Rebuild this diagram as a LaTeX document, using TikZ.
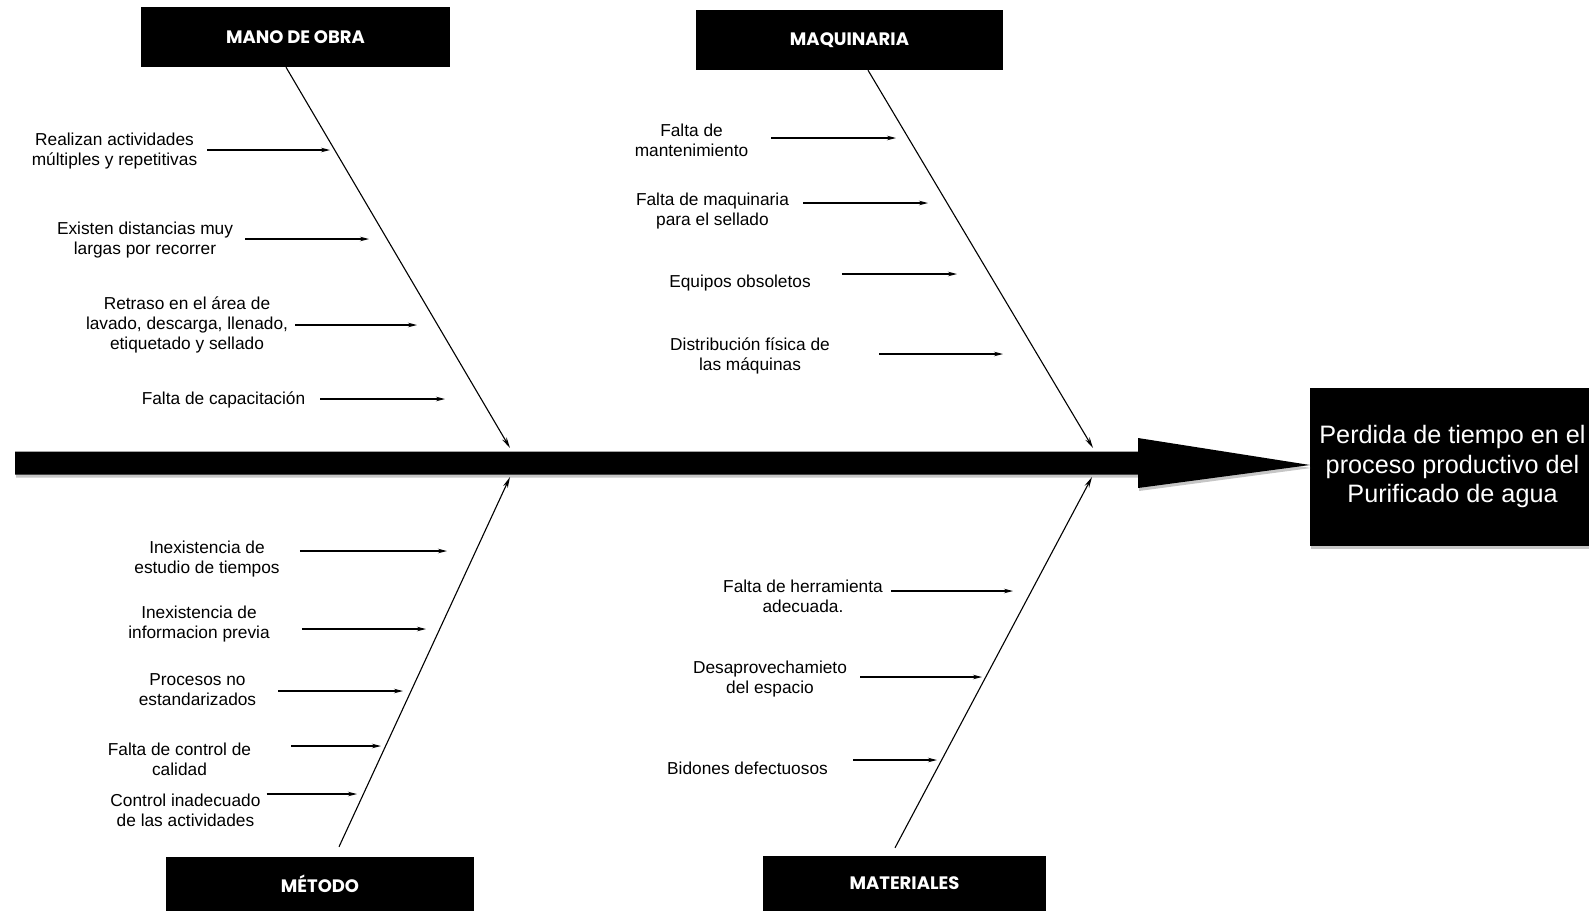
\documentclass[tikz,border=0pt]{standalone}
\usepackage{fontspec}
\setmainfont{Liberation Sans}
\newfontfamily\headfont{Poppins}
\usetikzlibrary{arrows.meta,shadows}

\tikzset{
  header/.style={fill=black, text=white, inner sep=0pt, minimum height=60pt,
    font=\headfont\bfseries\fontsize{18}{21}\selectfont},
  cause/.style={align=center, inner sep=0pt, yshift=-2pt, font=\fontsize{17.3}{20}\selectfont},
  bone/.style={line width=1.1pt, -{Stealth[length=11pt,width=5pt]}},
  sub/.style={line width=1.1pt, -{Stealth[length=9pt,width=4.5pt]}},
  soft/.style={drop shadow={opacity=0.45, shadow xshift=1pt, shadow yshift=-3pt}},
}

\begin{document}
\begin{tikzpicture}[x=1pt,y=-1pt]
  \useasboundingbox (0,0) rectangle (1589,911);

  % efecto y espina
  \node[fill=black, text=white, align=center, soft, minimum width=285pt, minimum height=158pt,
    font=\fontsize{25.2}{29.5}\selectfont] (effect) at (1452.5,466.5)
    {Perdida de tiempo en el\\proceso productivo del\\Purificado de agua};
  \coordinate (tail) at (15,463);
  \fill[soft] (tail) ++(0,-11.5) -- (1138,451.5) -- (1138,438) -- (1310,465)
    -- (1138,488) -- (1138,474.5) -- (15,474.5) -- cycle;

  % categorias
  \node[header, minimum width=309pt] (mo) at (295.5,37) {MANO DE OBRA};
  \node[header, minimum width=307pt] (maq) at (849.5,40) {MAQUINARIA};
  \node[header, minimum width=308pt, minimum height=54pt] (met) at (320,884) {MÉTODO};
  \node[header, minimum width=283pt, minimum height=55pt] (mat) at (904.5,883.5) {MATERIALES};

  \coordinate (j1) at (510,448);
  \coordinate (j2) at (1093,448);
  \coordinate (j3) at (510,477);
  \coordinate (j4) at (1092,477);
  \draw[bone] ([xshift=-9.5pt]mo.south) -- (j1);
  \draw[bone] ([xshift=18.5pt]maq.south) -- (j2);
  \draw[bone] ([xshift=19pt,yshift=10pt]met.north) -- (j3);
  \draw[bone] ([xshift=-9.5pt,yshift=8pt]mat.north) -- (j4);

  % mano de obra
  \node[cause] (mo1) at (114.5,149.5) {Realizan actividades\\múltiples y repetitivas};
  \node[cause] (mo2) at (145,238) {Existen distancias muy\\largas por recorrer};
  \node[cause] (mo3) at (187,323) {Retraso en el área de\\lavado, descarga, llenado,\\etiquetado y sellado};
  \node[cause] (mo4) at (223.5,398) {Falta de capacitación};
  \coordinate (mo1e) at (330,150);
  \coordinate (mo2e) at (369,239);
  \coordinate (mo3e) at (417,325);
  \coordinate (mo4e) at (445,399);
  \draw[sub, shorten <=10pt] (mo1.east |- mo1e) -- (mo1e);
  \draw[sub, shorten <=12pt] (mo2.east |- mo2e) -- (mo2e);
  \draw[sub, shorten <=7pt] (mo3.east |- mo3e) -- (mo3e);
  \draw[sub, shorten <=15pt] (mo4.east |- mo4e) -- (mo4e);

  % maquinaria
  \node[cause] (maq1) at (691.5,138) {Falta de\\mantenimiento};
  \node[cause] (maq2) at (712.5,209) {Falta de maquinaria\\para el sellado};
  \node[cause] (maq3) at (740,281) {Equipos obsoletos};
  \node[cause] (maq4) at (750,354) {Distribución física de\\las máquinas};
  \coordinate (maq1e) at (896,138);
  \coordinate (maq2e) at (928,203);
  \coordinate (maq3e) at (957,274);
  \coordinate (maq4e) at (1003,354);
  \draw[sub, shorten <=23pt] (maq1.east |- maq1e) -- (maq1e);
  \draw[sub, shorten <=14pt] (maq2.east |- maq2e) -- (maq2e);
  \draw[sub, shorten <=31pt] (maq3.east |- maq3e) -- (maq3e);
  \draw[sub, shorten <=49pt] (maq4.east |- maq4e) -- (maq4e);

  % metodo
  \node[cause] (met1) at (207,557) {Inexistencia de\\estudio de tiempos};
  \node[cause] (met2) at (199,622) {Inexistencia de\\informacion previa};
  \node[cause] (met3) at (197.5,688) {Procesos no\\estandarizados};
  \node[cause] (met4) at (179.5,757) {Falta de control de\\calidad};
  \node[cause] (met5) at (185.5,808) {Control inadecuado\\de las actividades};
  \coordinate (met1e) at (447,551);
  \coordinate (met2e) at (426,629);
  \coordinate (met3e) at (403,691);
  \coordinate (met4e) at (381,746);
  \coordinate (met5e) at (357,794);
  \draw[sub, shorten <=20pt] (met1.east |- met1e) -- (met1e);
  \draw[sub, shorten <=32pt] (met2.east |- met2e) -- (met2e);
  \draw[sub, shorten <=22pt] (met3.east |- met3e) -- (met3e);
  \draw[sub, shorten <=40pt] (met4.east |- met4e) -- (met4e);
  \draw[sub, shorten <=6pt] (met5.east |- met5e) -- (met5e);

  % materiales
  \node[cause] (mat1) at (803,594) {Falta de herramienta\\adecuada.};
  \node[cause] (mat2) at (770,677) {Desaprovechamieto\\del espacio};
  \node[cause] (mat3) at (747.5,766) {Bidones defectuosos};
  \coordinate (mat1e) at (1013,591);
  \coordinate (mat2e) at (982,677);
  \coordinate (mat3e) at (937,760);
  \draw[sub, shorten <=8pt] (mat1.east |- mat1e) -- (mat1e);
  \draw[sub, shorten <=13pt] (mat2.east |- mat2e) -- (mat2e);
  \draw[sub, shorten <=25pt] (mat3.east |- mat3e) -- (mat3e);
\end{tikzpicture}
\end{document}
